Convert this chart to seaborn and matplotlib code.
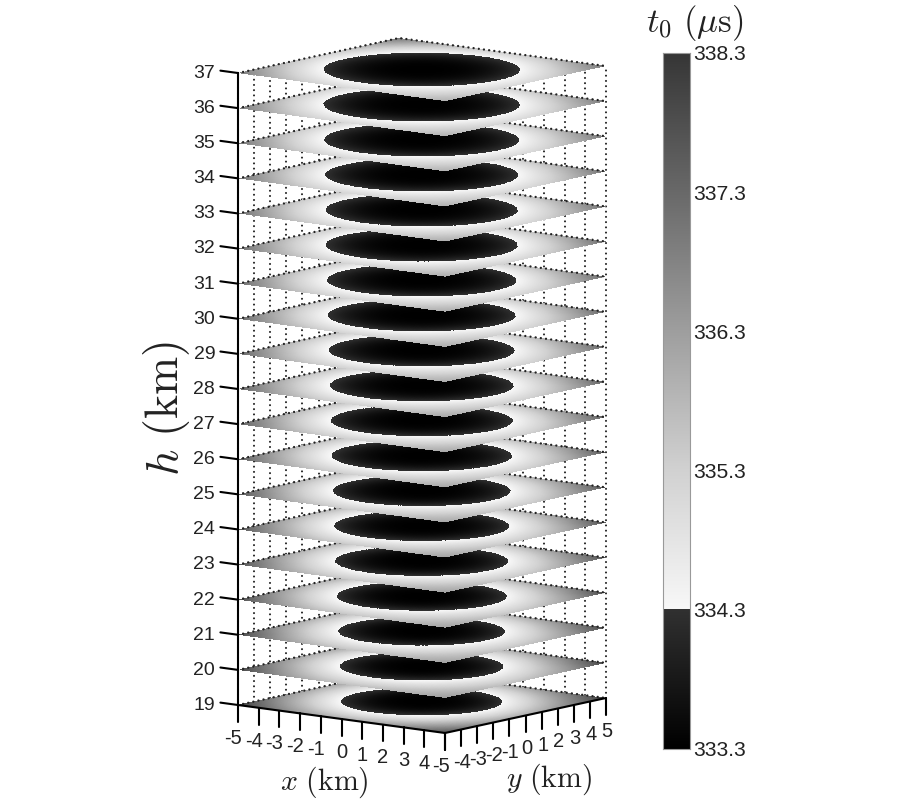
import numpy as np
import matplotlib
matplotlib.use("Agg")
import matplotlib.pyplot as plt
import seaborn as sns
from matplotlib.colors import LinearSegmentedColormap
from matplotlib.transforms import Affine2D

# -----------------------------
# Values
# -----------------------------
heights = [19, 20, 21, 22, 23, 24, 25, 26, 27, 28, 29, 30, 31, 32, 33, 34, 35, 36, 37]
# radius (km) of the dark disc on each plane
disc_radius = [3.07, 3.12, 3.18, 3.24, 3.30, 3.34, 3.39, 3.44, 3.47, 3.50,
               3.54, 3.58, 3.61, 3.66, 3.66, 3.68, 3.72, 3.74, 3.74]
# t0 at the left/right/back corners and at the front corner of each plane
t0_corner = [338.1, 338.0, 337.9, 337.8, 337.7, 337.65, 337.6, 337.5, 337.45, 337.4,
             337.35, 337.3, 337.25, 337.2, 337.15, 337.1, 337.05, 337.0, 337.0]
t0_front = [337.7, 336.3, 336.2, 336.2, 336.2, 336.2, 336.1, 336.1, 336.1, 336.1,
            336.0, 336.0, 336.0, 336.0, 336.0, 335.9, 335.9, 335.9, 335.9]

xy_ticks = [-5, -4, -3, -2, -1, 0, 1, 2, 3, 4, 5]
x_tick_labels = ["-5", "-4", "-3", "-2", "-1", "0", "1", "2", "3", "4", ""]
y_tick_labels = ["-5", "-4", "-3", "-2", "-1", "0", "1", "2", "3", "4", "5"]

cbar_ticks = [333.3, 334.3, 335.3, 336.3, 337.3, 338.3]
t_min, t_split, t_max = 333.3, 334.3, 338.3
# gray level of the colour scale at t0 values
scale_t0 = [333.3, 334.3, 334.3, 335.3, 336.3, 337.3, 338.3]
scale_gray = [0.0, 0.19, 0.97, 0.82, 0.62, 0.41, 0.21]

# -----------------------------
# Functions
# -----------------------------

def plane_transform(h):
    """Map km on a plane at height h to figure pixels."""
    yc = 705 - 35.11 * (h - 19)
    return Affine2D.from_values(20.7, 2.8, 16.1, -3.5, 422, yc - 3.5)


def project(x, y, h):
    """Same oblique view for single points and lines."""
    x, y, h = np.broadcast_arrays(x, y, h)
    return 422 + 20.7 * x + 16.1 * y, 705 - 35.11 * (h - 19) - 3.5 + 2.8 * x - 3.5 * y


def plane_field(xx, yy, radius, corner, front):
    """t0 over one plane, from the disc radius and the corner values."""
    r = np.sqrt(xx**2 + yy**2)
    toward_front = np.clip((xx - yy) / 10, 0, 1)
    edge = corner + (front - corner) * toward_front
    rmax = np.sqrt(50)
    outer = t_split + 1e-3 + (edge - t_split) * np.clip((r - radius) / (rmax - radius), 0, 1)
    inner = t_min + (t_split - t_min - 1e-3) * (r / radius)**3
    return np.where(r < radius, inner, outer)


# -----------------------------
# Figure
# -----------------------------
sns.set_theme(style="white")
plt.rcParams["font.family"] = ["Liberation Sans", "DejaVu Sans"]
plt.rcParams["mathtext.fontset"] = "cm"

positions = [(v - t_min) / (t_max - t_min) for v in scale_t0]
cmap = LinearSegmentedColormap.from_list(
    "t0_gray", list(zip(positions, [(g, g, g) for g in scale_gray])), N=2048)

fig = plt.figure(figsize=(9, 8), dpi=100)
ax = fig.add_axes([0, 0, 1, 1])
ax.set_autoscale_on(False)
ax.set_xlim(0, 900)
ax.set_ylim(800, 0)
ax.axis("off")

dots = (0, (0.01, 2.5))

# back wall grid, behind every plane
for t in xy_ticks:
    for wall_x, wall_y in [(-5, t), (t, 5)]:
        px, py = project(wall_x, wall_y, np.array([19, 37]))
        ax.plot(px, py, color="#222222", lw=1.5, ls=dots, dash_capstyle="round", zorder=1)

# planes, bottom to top so the upper one hides the lower one
edges = np.linspace(-5, 5, 301)
centers = (edges[:-1] + edges[1:]) / 2
xx, yy = np.meshgrid(centers, centers)
for i, h in enumerate(heights):
    field = plane_field(xx, yy, disc_radius[i], t0_corner[i], t0_front[i])
    ax.pcolormesh(edges, edges, field, cmap=cmap, vmin=t_min, vmax=t_max, shading="flat",
                  antialiased=False, transform=plane_transform(h) + ax.transData, zorder=2 + 2 * i)
    px, py = project(np.array([-5, -5, 5]), np.array([-5, 5, 5]), h)
    ax.plot(px, py, color="#222222", lw=1.7, ls=(0, (0.01, 2.2)), dash_capstyle="round", zorder=3 + 2 * i)

top = 2 + 2 * len(heights)

# height axis
px, py = project(-5, -5, np.array([heights[0], heights[-1]]))
ax.plot(px, py, color="black", lw=1.5, zorder=top)
for h in heights:
    px, py = project(np.array([-5.0, -5.85]), -5, h)
    ax.plot(px, py, color="black", lw=1.5, zorder=top)
    lx, ly = project(-6.1, -5, h)
    ax.text(lx, ly + 3.5, str(h), ha="right", va="center", fontsize=14, color="#222222", zorder=top)

# x and y axes on the lowest plane
h0 = heights[0]
px, py = project(np.array([-5, 5]), -5, h0)
ax.plot(px, py, color="black", lw=1.5, zorder=top)
px, py = project(5, np.array([-5, 5]), h0)
ax.plot(px, py, color="black", lw=1.5, zorder=top)
for t, xlab, ylab in zip(xy_ticks, x_tick_labels, y_tick_labels):
    px, py = project(t, -5, np.array([h0, h0 - 0.48]))
    ax.plot(px, py, color="black", lw=1.5, zorder=top)
    px, py = project(5, t, np.array([h0, h0 - 0.48]))
    ax.plot(px, py, color="black", lw=1.5, zorder=top)
    lx, ly = project(t, -5, h0 - 0.95)
    ax.text(lx - (5 if t < 0 else 0), ly, xlab, ha="center", va="center", fontsize=14.5,
            color="#222222", zorder=top)
    lx, ly = project(5, t, h0 - 0.95)
    ax.text(lx + (-4 if t == -5 else 1), ly, ylab, ha="center", va="center", fontsize=14.5,
            color="#222222", zorder=top)

ax.text(324, 782, r"$x\ \mathrm{(km)}$", ha="center", va="center", fontsize=21.5, color="#222222")
ax.text(549, 779, r"$y\ \mathrm{(km)}$", ha="center", va="center", fontsize=21.5, color="#222222")
ax.text(167, 408, r"$h\ \mathrm{(km)}$", ha="center", va="center", rotation=90, fontsize=33, color="#222222")
ax.text(695, 23, r"$t_0\ (\mu\mathrm{s})$", ha="center", va="center", fontsize=25, color="#222222")

# colour bar
cax = fig.add_axes([663 / 900, 1 - 749 / 800, 27 / 900, 696 / 800])
levels = np.linspace(t_max, t_min, 696).reshape(-1, 1)
sns.heatmap(levels, ax=cax, cmap=cmap, vmin=t_min, vmax=t_max, cbar=False,
            xticklabels=False, yticklabels=False)
for spine in cax.spines.values():
    spine.set_visible(True)
    spine.set_color("#999999")
    spine.set_linewidth(0.8)
tick_pos = [(t_max - v) / (t_max - t_min) * levels.shape[0] for v in cbar_ticks]
cax.yaxis.tick_right()
cax.set_yticks(tick_pos, labels=[f"{v:.1f}" for v in cbar_ticks], rotation=0)
cax.tick_params(axis="y", length=0, pad=2, labelsize=15.2, labelcolor="#222222")

fig.savefig("out.png", dpi=100)
plt.close(fig)
